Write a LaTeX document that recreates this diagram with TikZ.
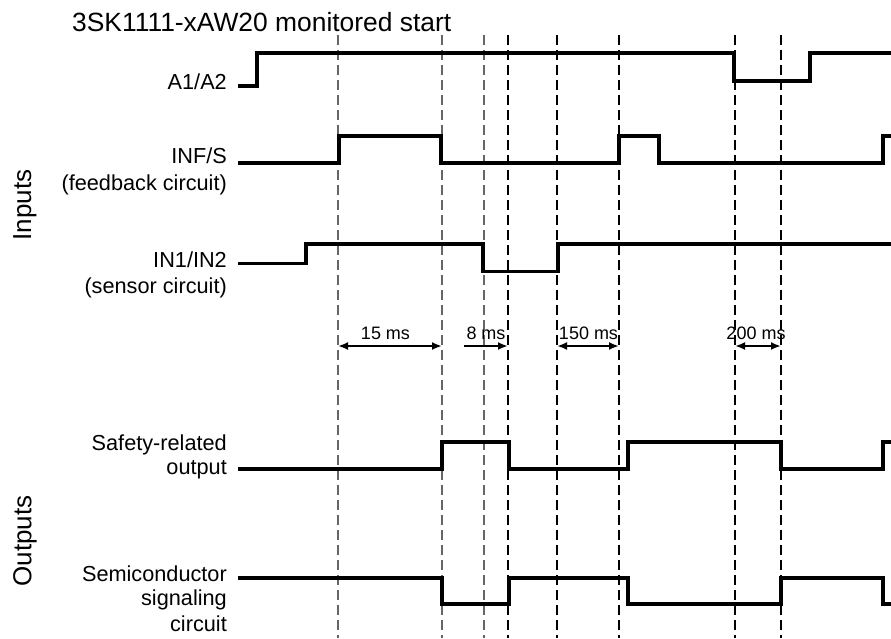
\documentclass[tikz,border=0pt]{standalone}
\usepackage{fontspec}
\setmainfont{Liberation Sans}
\usetikzlibrary{arrows.meta}
\begin{document}
\begin{tikzpicture}[x=1pt,y=-1pt,
  sig/.style={line width=3.5pt,line join=miter},
  grid/.style={dash pattern=on 10pt off 5pt,line width=1.1pt},
  gridgray/.style={grid,draw=black!60},
  lbl/.style={anchor=base east,inner sep=0pt,font=\fontsize{21.7}{25}\selectfont},
  grp/.style={rotate=90,inner sep=0pt,font=\fontsize{26}{30}\selectfont},
  tlbl/.style={anchor=base,inner sep=0pt,font=\fontsize{18}{22}\selectfont},
  dim/.style={line width=2pt,{Latex[length=10pt,width=8pt]}-{Latex[length=10pt,width=8pt]}},
  dimr/.style={line width=2pt,-{Latex[length=10pt,width=8pt]}}]
\useasboundingbox (0,0) rectangle (891,638);
% title
\node[anchor=base west,inner sep=0pt,font=\fontsize{26.4}{32}\selectfont] (title) at (72,31) {3SK1111-xAW20 monitored start};
% group labels
\node[grp] (inputs) at (25,205) {Inputs};
\node[grp] (outputs) at (25,541) {Outputs};
% signal labels
\node[lbl] (la) at (227,89) {A1/A2};
\node[lbl] (linf) at (227,163) {INF/S};
\node[lbl] (linfb) at (227,190) {(feedback circuit)};
\node[lbl] (lin) at (227,267.5) {IN1/IN2};
\node[lbl] (linb) at (227,293) {(sensor circuit)};
\node[lbl] (lsafe) at (227,450) {Safety-related};
\node[lbl] (lsafeb) at (227,474) {output};
\node[lbl] (lsemi) at (227,581.5) {Semiconductor};
\node[lbl] (lsemib) at (227,605) {signaling};
\node[lbl] (lsemic) at (227,631) {circuit};
% dashed time markers
\foreach \x in {338,442,484} \draw[gridgray] (\x,35) -- (\x,638);
\foreach \x in {508,557,619,735,781} \draw[grid] (\x,35) -- (\x,638);
% waveforms
\draw[sig] (238,86) -- (257,86) -- (257,53) -- (734,53) -- (734,81) -- (810,81) -- (810,53) -- (891,53);
\draw[sig] (238,163) -- (339,163) -- (339,136) -- (441,136) -- (441,163) -- (619,163) -- (619,136) -- (659,136) -- (659,163) -- (883,163) -- (883,136) -- (891,136);
\draw[sig] (238,263.5) -- (306,263.5) -- (306,244) -- (483,244) -- (483,271.5) -- (558,271.5) -- (558,244) -- (891,244);
\draw[sig] (238,469) -- (442,469) -- (442,442) -- (509,442) -- (509,469) -- (628,469) -- (628,442) -- (781,442) -- (781,469) -- (883,469) -- (883,442) -- (891,442);
\draw[sig] (238,578) -- (442,578) -- (442,604) -- (509,604) -- (509,578) -- (628,578) -- (628,604) -- (781,604) -- (781,578) -- (883,578) -- (883,604) -- (891,604);
% time intervals
\coordinate (d1a) at (338,346); \coordinate (d1b) at (442,346);
\coordinate (d2a) at (464,346); \coordinate (d2b) at (508,346);
\coordinate (d3a) at (557,346); \coordinate (d3b) at (619,346);
\coordinate (d4a) at (735,346); \coordinate (d4b) at (781,346);
\draw[dim] (d1a) -- (d1b);
\draw[dimr] (d2a) -- (d2b);
\draw[dim] (d3a) -- (d3b);
\draw[dim] (d4a) -- (d4b);
\node[tlbl] (t1) at (385.5,339) {15 ms};
\node[tlbl] (t2) at (486,339) {8 ms};
\node[tlbl] (t3) at (588.5,339) {150 ms};
\node[tlbl] (t4) at (756,339) {200 ms};
\end{tikzpicture}
\end{document}
